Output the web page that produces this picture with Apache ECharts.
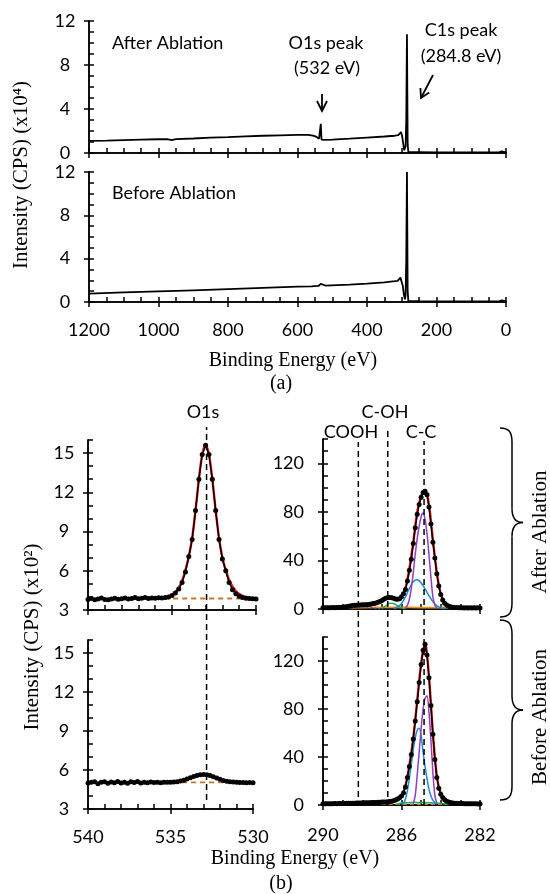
<!DOCTYPE html>
<html><head><meta charset="utf-8">
<script src="https://cdn.jsdelivr.net/npm/echarts@6/dist/echarts.min.js"></script>
<style>html,body{margin:0;padding:0;background:#fff}#c{width:550px;height:894px}</style>
</head><body><div id="c"></div>
<script>
// ---------------- DATA ----------------
// (a) survey spectra, intensity x10^4 CPS
const surveyAfterEnergy = [1200,1150,1100,1050,1000,975,962,950,900,850,800,750,700,650,600,570,555,545,538,535,533,531,526,520,500,450,400,350,320,310,306,302,299,296,293,291,289,287,285,283,281,275,250,200,150,100,50,20,12,8,0];
const surveyAfter = [1.10,1.13,1.17,1.21,1.25,1.27,1.18,1.26,1.32,1.39,1.45,1.52,1.57,1.61,1.64,1.64,1.58,1.46,1.30,1.22,2.65,1.22,1.18,1.20,1.22,1.30,1.40,1.50,1.57,1.62,1.80,1.90,1.55,0.90,0.25,0.20,0.60,3.00,10.8,0.80,0.10,0.08,0.08,0.06,0.06,0.05,0.05,0.06,0.15,0.06,0.05];
const surveyBeforeEnergy = [1200,1100,1000,900,800,700,600,560,540,535,533,531,520,450,400,350,320,312,308,304,300,297,294,291,289,287,285,283,281,275,250,200,150,100,50,20,12,8,0];
const surveyBefore = [0.78,0.88,0.98,1.08,1.19,1.30,1.41,1.45,1.48,1.60,1.68,1.52,1.52,1.60,1.70,1.82,1.92,1.95,1.88,2.25,2.10,1.50,0.70,0.25,0.60,4.00,12.0,1.00,0.10,0.08,0.07,0.06,0.06,0.05,0.05,0.05,0.15,0.06,0.05];
const surveyXTicks = [0, 1200, 200];
const surveyYTicks = [0, 12, 4];

// (b) O1s high resolution, intensity x10^2 CPS
const o1sEnergy = [540.0,539.8,539.6,539.4,539.2,539.0,538.8,538.6,538.4,538.2,538.0,537.8,537.6,537.4,537.2,537.0,536.8,536.6,536.4,536.2,536.0,535.8,535.6,535.4,535.2,535.0,534.8,534.6,534.4,534.2,534.0,533.8,533.6,533.4,533.2,533.0,532.8,532.6,532.4,532.2,532.0,531.8,531.6,531.4,531.2,531.0,530.8,530.6,530.4,530.2,530.0];
const o1sAfter = [3.80,3.88,3.78,3.85,3.92,3.80,3.78,3.85,3.90,3.82,3.86,3.92,3.84,3.88,3.95,3.86,3.90,3.96,3.88,3.92,3.90,3.94,3.92,3.96,4.00,4.10,4.30,4.60,5.10,5.90,7.10,8.40,10.60,13.00,14.90,15.60,14.90,13.00,10.60,8.40,6.90,6.00,5.10,4.55,4.25,4.05,3.95,3.90,3.88,3.86,3.85];
const o1sBefore = [5.00,5.05,5.10,4.95,5.05,5.10,4.98,5.08,5.02,5.12,5.00,5.06,4.98,5.10,5.04,5.12,5.00,5.06,5.02,5.08,5.04,5.06,5.02,5.05,5.06,5.05,5.07,5.10,5.15,5.22,5.30,5.40,5.50,5.58,5.64,5.66,5.64,5.58,5.48,5.38,5.28,5.20,5.14,5.10,5.07,5.05,5.04,5.03,5.02,5.04,5.02];
const o1sFitEnergy = [536.0,535.8,535.6,535.4,535.2,535.0,534.8,534.6,534.4,534.2,534.0,533.8,533.6,533.4,533.2,533.0,532.8,532.6,532.4,532.2,532.0,531.8,531.6,531.4,531.2,531.0,530.8,530.6,530.4,530.2,530.0];
const o1sAfterFit = [3.88,3.90,3.93,3.98,4.06,4.18,4.38,4.70,5.25,6.05,7.10,8.50,10.60,13.00,14.90,15.60,14.90,13.00,10.60,8.50,7.00,6.05,5.30,4.80,4.45,4.22,4.08,4.00,3.95,3.92,3.90];
const o1sAfterBaseEnergy = [536.0, 530.0];
const o1sAfterBase = [3.88, 3.88];
const o1sBeforeBaseEnergy = [534.3, 531.2];
const o1sBeforeBase = [5.05, 5.05];
const o1sXTicks = [530, 540, 5];
const o1sYTicks = [3, 16, 3];

// (b) C1s high resolution, intensity CPS
const c1sEnergy = [290.0,289.9,289.8,289.7,289.6,289.5,289.4,289.3,289.2,289.1,289.0,288.9,288.8,288.7,288.6,288.5,288.4,288.3,288.2,288.1,288.0,287.9,287.8,287.7,287.6,287.5,287.4,287.3,287.2,287.1,287.0,286.9,286.8,286.7,286.6,286.5,286.4,286.3,286.2,286.1,286.0,285.9,285.8,285.7,285.6,285.5,285.4,285.3,285.2,285.1,285.0,284.9,284.8,284.7,284.6,284.5,284.4,284.3,284.2,284.1,284.0,283.9,283.8,283.7,283.6,283.5,283.4,283.3,283.2,283.1,283.0,282.9,282.8,282.7,282.6,282.5,282.4,282.3,282.2,282.1,282.0];
const c1sAfter = [1.0,1.1,1.0,1.1,1.1,1.2,1.1,1.2,1.2,1.3,1.4,1.6,1.9,2.2,2.5,2.8,3.0,3.1,3.2,3.3,3.4,3.5,3.6,3.8,4.0,4.3,4.6,5.0,5.5,6.2,7.0,8.0,8.8,9.4,9.5,9.3,8.8,8.2,8.0,8.5,10.0,12.5,16.0,23.0,32.0,41.0,54.0,67.0,78.0,86.0,92.0,96.0,97.0,94.0,84.0,70.0,55.0,42.0,29.0,19.0,12.0,7.5,4.8,3.2,2.3,1.8,1.5,1.3,1.2,1.1,1.0,1.0,0.9,1.0,0.9,1.0,0.9,1.0,0.9,1.0,0.9];
const c1sBefore = [1.0,1.0,1.1,1.0,1.1,1.1,1.2,1.1,1.2,1.2,1.3,1.3,1.4,1.4,1.4,1.5,1.5,1.6,1.6,1.7,1.7,1.8,1.8,1.9,1.9,2.0,2.1,2.1,2.2,2.3,2.4,2.5,2.6,2.8,3.0,3.2,3.6,4.2,5.0,6.0,7.5,10.0,15.0,23.0,32.0,42.0,55.0,70.0,86.0,102.0,117.0,129.0,134.0,125.0,106.0,83.0,59.0,38.0,23.0,14.0,9.0,6.2,4.4,3.2,2.5,2.0,1.7,1.5,1.4,1.3,1.2,1.2,1.1,1.1,1.0,1.1,1.0,1.0,1.0,0.9,1.0];
const c1sFitEnergy = [290.0,289.8,289.6,289.4,289.2,289.0,288.8,288.6,288.4,288.2,288.0,287.8,287.6,287.4,287.2,287.0,286.8,286.6,286.4,286.2,286.0,285.8,285.6,285.4,285.2,285.0,284.8,284.6,284.4,284.2,284.0,283.8,283.6,283.4,283.2,283.0,282.8,282.6,282.4,282.2,282.0];
const c1sAfterFit = [0.9,1.0,1.0,1.1,1.2,1.4,1.9,2.5,3.0,3.2,3.4,3.6,4.0,4.6,5.6,7.2,8.9,9.5,8.8,8.2,10.2,17.0,33.0,55.0,80.0,93.0,98.0,86.0,57.0,30.0,12.5,5.0,2.4,1.5,1.2,1.0,0.9,0.9,0.9,0.9,0.9];
const c1sBeforeFit = [0.9,1.0,1.0,1.1,1.2,1.3,1.4,1.4,1.5,1.6,1.7,1.8,1.9,2.1,2.2,2.4,2.6,3.0,3.7,5.2,8.0,16.0,33.0,56.0,87.0,118.0,135.0,107.0,60.0,24.0,9.5,4.6,2.6,1.8,1.4,1.2,1.1,1.0,1.0,1.0,1.0];
// fitted components, after ablation
const ccAfterEnergy = [285.8,285.7,285.6,285.5,285.4,285.3,285.2,285.1,285.0,284.9,284.8,284.7,284.6,284.5,284.4,284.3,284.2];
const ccAfter = [1,3,8,17,30,45,58,68,76,79,74,62,45,26,10,3,1];
const c2AfterEnergy = [286.4,286.2,286.0,285.8,285.6,285.4,285.2,285.0,284.8,284.6,284.4,284.2,284.0,283.8];
const c2After = [0.5,1.5,4.5,10,17,22.5,24,21.5,16.5,11,6,2.8,1.0,0.4];
const cohAfterEnergy = [287.0,286.8,286.6,286.4,286.2,286.0,285.8];
const cohAfter = [0.5,2.5,4.8,4.5,2.5,1.0,0.3];
const coohAfterEnergy = [289.0,288.6,288.2,287.8,287.4,287.0];
const coohAfter = [0.2,1.0,1.8,1.6,0.8,0.2];
const bgAfterEnergy = [288.8,288.0,287.0,286.0,285.0,284.0,283.6];
const bgAfter = [1.0,1.2,1.3,1.3,1.2,1.1,1.0];
// fitted components, before ablation
const ccBeforeEnergy = [285.4,285.3,285.2,285.1,285.0,284.9,284.8,284.7,284.6,284.5,284.4,284.3,284.2];
const ccBefore = [1,8,25,44,64,80,89,91,77,54,27,8,1.5];
const c2BeforeEnergy = [286.0,285.9,285.8,285.7,285.6,285.5,285.4,285.3,285.2,285.1,285.0,284.9,284.8,284.7,284.6,284.5,284.4,284.3,284.2];
const c2Before = [0.5,1.5,5,12,22,34,46,56,62.5,64,58,44,32,22,13,7.5,4,2,0.8];
const cohBeforeEnergy = [286.3,286.0,285.5,285.0,284.5,284.0,283.6];
const cohBefore = [0.3,1.6,2.0,2.0,1.8,1.5,0.4];
const bgBeforeEnergy = [287.0,283.3];
const bgBefore = [0.7,0.7];
const c1sXTicks = [282, 290, 4];
const c1sYTicks = [0, 140, 40];

// reference (peak position) lines: energy, span fraction of the column
const o1sRefEnergy = [532.9];
const c1sRefNames = ['COOH', 'C-OH', 'C-C'];
const c1sRefEnergy = [288.2, 286.7, 284.85];
const c1sRefSpan = [[0.021, 0.96], [0.021, 1.0], [0.0, 0.963]];

// ---------------- CHART ----------------
const SANS = 'Lato', SERIF = 'Liberation Serif';
const pair = (xs, ys) => xs.map((x, i) => [x, ys[i]]);
const grids = [
  {left: 89, top: 21, width: 417, height: 132},
  {left: 89, top: 172, width: 417, height: 130},
  {left: 88, top: 440, width: 168, height: 170},
  {left: 323, top: 439, width: 157, height: 170},
  {left: 88, top: 640, width: 165, height: 169},
  {left: 323, top: 637, width: 157, height: 168},
  {left: 88, top: 427, width: 167, height: 373},
  {left: 323, top: 427, width: 157, height: 378}
];
const xAxes = [], yAxes = [];
const axisLine = {onZero: false, lineStyle: {color: '#000', width: 1.5}};
const tickStyle = {color: '#000', width: 1.5};
const plain = v => String(v);
function addAxes(g, xt, yt, xMinor, yMinor, xLab, yLab) {
  const xBase = {type: 'value', gridIndex: g, min: xt[0], max: xt[1], interval: xt[2], inverse: true, position: 'bottom', splitLine: {show: false}, axisLine};
  xAxes.push(Object.assign({}, xBase, {
    axisTick: {inside: false, length: 5, lineStyle: tickStyle},
    axisLabel: Object.assign({show: !!xLab, color: '#000', fontFamily: SANS, fontSize: 18, formatter: plain}, xLab || {})
  }));
  xAxes.push(Object.assign({}, xBase, {
    axisTick: {inside: true, length: 5, lineStyle: tickStyle},
    minorTick: {show: true, splitNumber: xMinor, length: 5, lineStyle: tickStyle},
    axisLabel: {show: false}
  }));
  const yBase = {type: 'value', gridIndex: g, min: yt[0], max: yt[1], interval: yt[2], position: 'left', splitLine: {show: false}, axisLine};
  yAxes.push(Object.assign({}, yBase, {
    axisTick: {inside: false, length: 5, lineStyle: tickStyle},
    axisLabel: Object.assign({color: '#000', fontFamily: SANS, fontSize: 18, showMaxLabel: false, formatter: plain}, yLab)
  }));
  yAxes.push(Object.assign({}, yBase, {
    axisTick: {inside: true, length: 5, lineStyle: tickStyle},
    minorTick: {show: true, splitNumber: yMinor, length: 5, lineStyle: tickStyle},
    axisLabel: {show: false}
  }));
}
addAxes(0, surveyXTicks, surveyYTicks, 4, 4, null, {align: 'center', margin: 24, showMaxLabel: true});
addAxes(1, surveyXTicks, surveyYTicks, 4, 4, {margin: 19}, {align: 'center', margin: 24, showMaxLabel: true});
addAxes(2, o1sXTicks, o1sYTicks, 5, 3, null, {align: 'center', margin: 24});
addAxes(3, c1sXTicks, c1sYTicks, 4, 4, null, {margin: 19});
addAxes(4, o1sXTicks, o1sYTicks, 5, 3, {margin: 19}, {align: 'center', margin: 24});
addAxes(5, c1sXTicks, c1sYTicks, 4, 4, {margin: 21}, {margin: 19});
// overlay axes for reference lines spanning both rows
xAxes.push({type: 'value', gridIndex: 6, min: o1sXTicks[0], max: o1sXTicks[1], inverse: true, show: false});
xAxes.push({type: 'value', gridIndex: 7, min: c1sXTicks[0], max: c1sXTicks[1], inverse: true, show: false});
yAxes.push({type: 'value', gridIndex: 6, min: 0, max: 1, show: false});
yAxes.push({type: 'value', gridIndex: 7, min: 0, max: 1, show: false});

const series = [];
function line(g, data, color, width, extra) {
  series.push(Object.assign({type: 'line', xAxisIndex: 2 * g, yAxisIndex: 2 * g, data, showSymbol: false, symbol: 'none', silent: true, animation: false,
    lineStyle: {color, width}}, extra || {}));
}
function dots(g, data) {
  series.push({type: 'line', xAxisIndex: 2 * g, yAxisIndex: 2 * g, data, symbol: 'circle', symbolSize: 5, showSymbol: true, showAllSymbol: true, silent: true, animation: false,
    itemStyle: {color: '#000'}, lineStyle: {color: '#000', width: 1.5}, z: 5});
}
const RED = '#ff1a1a', PURPLE = '#8e3fbf', BLUE = '#1e8ad6', GREEN = '#2fa84f', ORANGE = '#f0901e', BROWN = '#c8742e', NAVY = '#3a63b0';
// survey
line(0, pair(surveyAfterEnergy, surveyAfter), '#000', 1.8);
line(1, pair(surveyBeforeEnergy, surveyBefore), '#000', 1.8);
// O1s after
line(2, pair(o1sAfterBaseEnergy, o1sAfterBase), BROWN, 1.8, {lineStyle: {color: BROWN, width: 1.8, type: [5, 4]}});
line(2, pair(o1sFitEnergy, o1sAfterFit), RED, 2.4, {smooth: 0.3});
dots(2, pair(o1sEnergy, o1sAfter));
// O1s before
line(4, pair(o1sBeforeBaseEnergy, o1sBeforeBase), BROWN, 1.8, {lineStyle: {color: BROWN, width: 1.8, type: [5, 4]}});
dots(4, pair(o1sEnergy, o1sBefore));
// C1s after
line(3, pair(c1sFitEnergy, c1sAfterFit), RED, 2.4, {smooth: 0.3});
line(3, pair(bgAfterEnergy, bgAfter), ORANGE, 1.8, {smooth: 0.3});
line(3, pair(coohAfterEnergy, coohAfter), NAVY, 1.5, {smooth: 0.3, lineStyle: {color: NAVY, width: 1.5, type: [2, 2]}});
line(3, pair(cohAfterEnergy, cohAfter), GREEN, 1.5, {smooth: 0.3});
line(3, pair(c2AfterEnergy, c2After), BLUE, 1.5, {smooth: 0.3});
line(3, pair(ccAfterEnergy, ccAfter), PURPLE, 1.5, {smooth: 0.3});
dots(3, pair(c1sEnergy, c1sAfter));
// C1s before
line(5, pair(c1sFitEnergy, c1sBeforeFit), RED, 2.4, {smooth: 0.3});
line(5, pair(bgBeforeEnergy, bgBefore), BROWN, 1.5, {lineStyle: {color: BROWN, width: 1.5, type: [4, 3]}});
line(5, pair(cohBeforeEnergy, cohBefore), GREEN, 1.5, {smooth: 0.3});
line(5, pair(c2BeforeEnergy, c2Before), BLUE, 1.5, {smooth: 0.3});
line(5, pair(ccBeforeEnergy, ccBefore), PURPLE, 1.5, {smooth: 0.3});
dots(5, pair(c1sEnergy, c1sBefore));
// reference dashed lines
const dashStyle = {color: '#000', width: 1.5, type: [6, 4]};
o1sRefEnergy.forEach(e => series.push({type: 'line', xAxisIndex: 12, yAxisIndex: 12, data: [[e, 0], [e, 1]], symbol: 'none', silent: true, animation: false, lineStyle: dashStyle, z: 6}));
c1sRefEnergy.forEach((e, i) => series.push({type: 'line', xAxisIndex: 13, yAxisIndex: 13, data: [[e, c1sRefSpan[i][0]], [e, c1sRefSpan[i][1]]], symbol: 'none', silent: true, animation: false, lineStyle: dashStyle, z: 6}));

// ---------------- TEXT & DECORATION ----------------
function txt(text, x, y, font, size, extra, align) {
  const a = align || 'center';
  return Object.assign({type: 'text', x, y, silent: true, style: {text, fontFamily: font, fontSize: size, fill: '#000', align: a, verticalAlign: 'middle', textAlign: a, textVerticalAlign: 'middle'}}, extra || {});
}
function seg(pts, w) {
  return {type: 'polyline', silent: true, shape: {points: pts}, style: {stroke: '#000', lineWidth: w || 1.8, fill: null}};
}
function brace(x0, x1, xt, ya, yb) {
  const ym = (ya + yb) / 2, st = {stroke: '#000', lineWidth: 1.5, fill: null};
  return [
    {type: 'bezierCurve', silent: true, shape: {x1: x0, y1: ya, cpx1: x0 + 9, cpy1: ya, cpx2: x1, cpy2: ya + 4, x2: x1, y2: ya + 14}, style: st},
    {type: 'line', silent: true, shape: {x1: x1, y1: ya + 14, x2: x1, y2: ym - 14}, style: st},
    {type: 'bezierCurve', silent: true, shape: {x1: x1, y1: ym - 14, cpx1: x1, cpy1: ym - 4, cpx2: x1 + 4, cpy2: ym, x2: xt, y2: ym}, style: st},
    {type: 'bezierCurve', silent: true, shape: {x1: xt, y1: ym, cpx1: x1 + 4, cpy1: ym, cpx2: x1, cpy2: ym + 4, x2: x1, y2: ym + 14}, style: st},
    {type: 'line', silent: true, shape: {x1: x1, y1: ym + 14, x2: x1, y2: yb - 14}, style: st},
    {type: 'bezierCurve', silent: true, shape: {x1: x1, y1: yb - 14, cpx1: x1, cpy1: yb - 4, cpx2: x0 + 9, cpy2: yb, x2: x0, y2: yb}, style: st}
  ];
}
const graphics = [
  txt('After Ablation', 112, 43, SANS, 18, null, 'left'),
  txt('Before Ablation', 112, 193, SANS, 18, null, 'left'),
  txt('O1s peak', 326, 43, SANS, 18),
  txt('(532 eV)', 327, 68, SANS, 18),
  txt('C1s peak', 461, 30, SANS, 18),
  txt('(284.8 eV)', 461, 56, SANS, 18),
  seg([[322, 94], [322, 111]]),
  seg([[317, 101], [322, 111], [327, 101]]),
  seg([[433, 75], [421, 98]]),
  seg([[429.3, 92.5], [421, 98], [420.4, 88]]),
  txt('Intensity (CPS) (x10⁴)', 21, 175, SERIF, 21, {rotation: Math.PI / 2}),
  txt('Binding Energy (eV)', 293, 361, SERIF, 20),
  txt('(a)', 281, 384, SERIF, 20),
  txt('O1s', 203, 412, SANS, 18),
  txt('C-OH', 385, 412, SANS, 18),
  txt('COOH', 351, 432, SANS, 18),
  txt('C-C', 421, 432, SANS, 18),
  txt('Intensity (CPS) (x10²)', 32, 637, SERIF, 21, {rotation: Math.PI / 2}),
  txt('Binding Energy (eV)', 295, 859, SERIF, 20),
  txt('(b)', 281, 884, SERIF, 20),
  txt('After Ablation', 540, 532, SERIF, 21, {rotation: Math.PI / 2}),
  txt('Before Ablation', 540, 717, SERIF, 21, {rotation: Math.PI / 2})
].concat(brace(500, 512, 523, 428, 617), brace(500, 512, 523, 620, 800));

const chart = echarts.init(document.getElementById('c'), null, {renderer: 'canvas'});
chart.setOption({
  animation: false,
  backgroundColor: '#fff',
  grid: grids,
  xAxis: xAxes,
  yAxis: yAxes,
  series,
  graphic: graphics
});
</script></body></html>
